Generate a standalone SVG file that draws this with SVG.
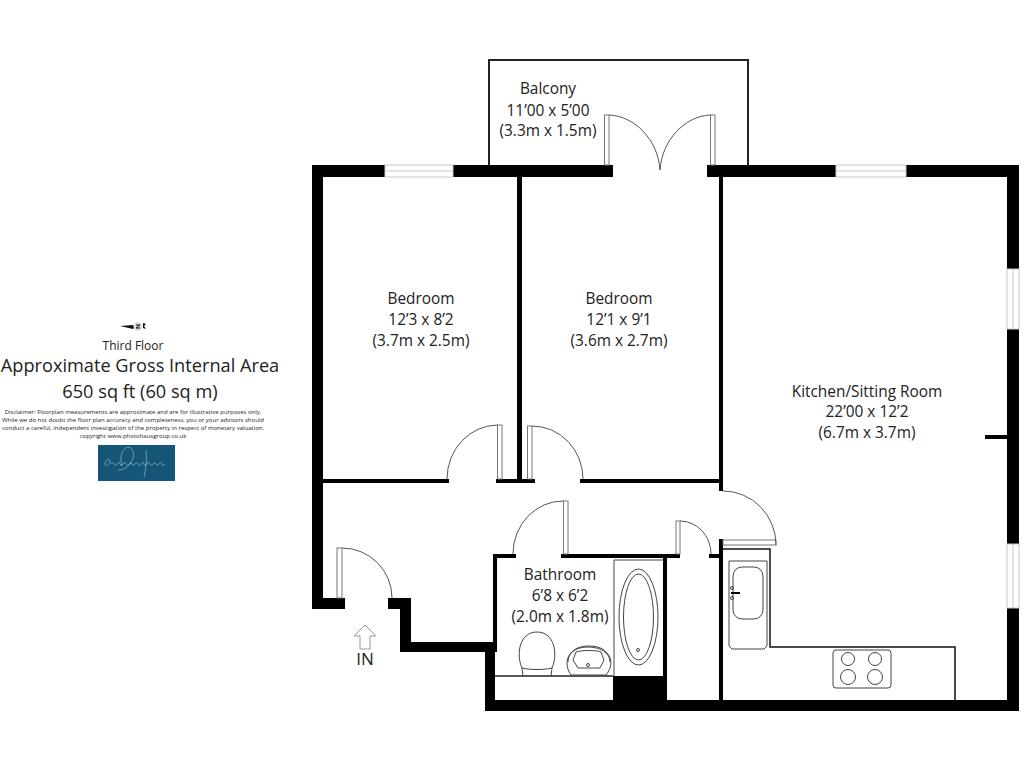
<svg xmlns="http://www.w3.org/2000/svg" width="1024" height="768" viewBox="0 0 1024 768">
<style>
text{font-family:"Open Sans","Noto Sans","Liberation Sans",sans-serif;fill:#222;text-anchor:middle}
.r{font-size:15.400px}
.w{fill:#000;stroke:none}
.win{fill:#fff;stroke:#c8c8c8;stroke-width:1}
.wl{fill:none;stroke:#c8c8c8;stroke-width:1}
.leaf{fill:#fff;stroke:#777;stroke-width:1}
.arc{fill:none;stroke:#555;stroke-width:1}
.fx{fill:none;stroke:#444;stroke-width:1}
.c{fill:none;stroke:#111;stroke-width:1.500}
</style>
<rect width="1024" height="768" fill="#fff"/>
<g id="balcony">
<path d="M489 165V60H748V165" fill="none" stroke="#222" stroke-width="2"/>
<text class="r" x="548" y="94">Balcony</text>
<text class="r" x="548" y="116">11’00 x 5’00</text>
<text class="r" x="548" y="136">(3.3m x 1.5m)</text>
</g>
<g id="walls">
<path class="w" d="M312 165H613V177H323V598H345V609H312Z"/>
<rect class="w" x="707" y="165" width="312" height="12"/>
<rect class="w" x="1007" y="165" width="12" height="546"/>
<rect class="w" x="485" y="700" width="534" height="11"/>
<path class="w" d="M388 598H411V642H497V652H400V609H388Z"/>
<rect class="w" x="485" y="642" width="10" height="60"/>
<rect class="w" x="493" y="554" width="4" height="90"/>
<rect class="w" x="493" y="554" width="23" height="4"/>
<rect class="w" x="561" y="554" width="119" height="4"/>
<rect class="w" x="663" y="554" width="4" height="146"/>
<rect class="w" x="517" y="177" width="5" height="306"/>
<rect class="w" x="719" y="177" width="4" height="314"/>
<rect class="w" x="719" y="539" width="4" height="161"/>
<rect class="w" x="709" y="554" width="10" height="4"/>
<rect class="w" x="323" y="479" width="126" height="4"/>
<rect class="w" x="496" y="479" width="39" height="4"/>
<rect class="w" x="580" y="479" width="139" height="4"/>
<rect class="w" x="985" y="435" width="22" height="4"/>
<rect class="w" x="613" y="676" width="50" height="24"/>
</g>
<g id="windows">
<rect class="win" x="385" y="165" width="68" height="12"/><path class="wl" d="M385 171H453"/>
<rect class="win" x="836" y="165" width="70" height="12"/><path class="wl" d="M836 171H906"/>
<rect class="win" x="1007" y="269" width="12" height="60"/><path class="wl" d="M1013 269V329"/>
<rect class="win" x="1007" y="544" width="12" height="64"/><path class="wl" d="M1013 544V608"/>
</g>
<g id="doors">
<rect class="leaf" x="604.500" y="115" width="4.500" height="50"/><path class="arc" d="M609 115C635 116 658 140 660 170"/>
<rect class="leaf" x="710.500" y="115" width="4.500" height="50"/><path class="arc" d="M710.500 115C685 116 662 140 660 170"/>
<rect class="leaf" x="497.500" y="425" width="4.500" height="54"/><path class="arc" d="M497.500 425A51 54 0 0 0 447 479"/>
<rect class="leaf" x="527.500" y="426" width="4.500" height="53"/><path class="arc" d="M532 426A51 53 0 0 1 583 479"/>
<rect class="leaf" x="563.500" y="501" width="4.500" height="53"/><path class="arc" d="M563.500 501A50 53 0 0 0 513 554"/>
<rect class="leaf" x="337" y="548" width="5" height="50"/><path class="arc" d="M342 548A50 50 0 0 1 392 598"/>
<rect class="leaf" x="676" y="521" width="4" height="33"/><path class="arc" d="M680 521A31 33 0 0 1 711 554"/>
<rect class="leaf" x="723" y="540" width="53" height="5"/><path class="arc" d="M723 491A53 54 0 0 1 776 545"/>
</g>
<g id="kitchen">
<path class="c" d="M723 549H770V647H955V700"/>
<path class="fx" d="M729 561H767V646L764 649H732L729 646Z"/>
<rect class="fx" x="733" y="567" width="30" height="52" rx="9"/>
<rect class="w" x="731" y="592" width="9" height="2"/>
<circle class="fx" cx="732" cy="588" r="1.500"/><circle class="fx" cx="732" cy="598" r="1.500"/>
<rect class="fx" x="833" y="650" width="58" height="38" rx="3"/>
<circle class="fx" cx="848" cy="659" r="6.500"/><circle class="fx" cx="875" cy="659" r="6.500"/>
<circle class="fx" cx="848" cy="677" r="7.500"/><circle class="fx" cx="875" cy="677" r="7.500"/>
<text class="r" x="867" y="397">Kitchen/Sitting Room</text>
<text class="r" x="867" y="417">22’00 x 12’2</text>
<text class="r" x="867" y="438">(6.7m x 3.7m)</text>
</g>
<g id="bathroom">
<path d="M495 676H613" stroke="#222" stroke-width="1.500"/>
<path class="fx" d="M614 676V560H663"/>
<ellipse class="fx" cx="638.500" cy="617" rx="19.500" ry="48"/>
<ellipse class="fx" cx="638.500" cy="617" rx="15" ry="43"/>
<circle class="fx" cx="638" cy="650" r="1.500"/>
<path class="fx" d="M523 676L522 668C516 655 519 632 537 632C555 632 558 655 552 668L551 676"/>
<path class="fx" d="M522 668C530 670 544 670 552 668"/>
<path class="fx" d="M571 675C566 668 565 658 572 652C578 644 600 644 606 652C613 658 612 668 606 675Z"/>
<path class="fx" d="M568 662C568 654 574 647 588 647C602 647 610 654 610 662"/>
<path class="fx" d="M578 668L573 660L576 652C582 650 596 650 601 652L604 660L600 668Z"/>
<circle class="fx" cx="588" cy="665" r="1.500"/>
<text class="r" x="560" y="580">Bathroom</text>
<text class="r" x="560" y="601">6’8 x 6’2</text>
<text class="r" x="560" y="622">(2.0m x 1.8m)</text>
</g>
<g id="bedroom1">
<text class="r" x="421" y="304">Bedroom</text>
<text class="r" x="421" y="325">12’3 x 8’2</text>
<text class="r" x="421" y="346">(3.7m x 2.5m)</text>
</g>
<g id="bedroom2">
<text class="r" x="619" y="304">Bedroom</text>
<text class="r" x="619" y="325">12’1 x 9’1</text>
<text class="r" x="619" y="346">(3.6m x 2.7m)</text>
</g>
<g id="entrance">
<path d="M365 625L376 636H370V649H360V636H354Z" fill="#fff" stroke="#999"/>
<text x="365" y="665" font-size="17">IN</text>
</g>
<g id="info">
<path d="M120 326L133 325L135 327L133 329Z" fill="#111"/>
<circle cx="138" cy="326.500" r="4.500" fill="#ddd"/>
<path d="M136 325h4l-4 3h4" stroke="#111" fill="none"/>
<path d="M143 323l3 1-2 2 2 3-3-1z" fill="#111"/>
<text x="133" y="350" font-size="12">Third Floor</text>
<text x="140" y="372" font-size="18.200">Approximate Gross Internal Area</text>
<text x="140" y="398" font-size="18.200">650 sq ft (60 sq m)</text>
<g font-size="6">
<text x="133" y="414">Disclaimer: Floorplan measurements are approximate and are for illustrative purposes only.</text>
<text x="133" y="422">While we do not doubt the floor plan accuracy and completeness, you or your advisors should</text>
<text x="133" y="430">conduct a careful, independent investigation of the property in respect of monetary valuation.</text>
<text x="133" y="438">copyright www.photohausgroup.co.uk</text>
</g>
</g>
<g id="logo">
<rect x="98" y="445" width="77" height="36" fill="#155577"/>
<path d="M105 463C107 458 111 459 110 462C108 467 104 466 105 463M111 464q2-3 3 0t3 0 3 0 3 0 3 0 3 0 3 0 3 0 3 0 3 0 3 0 3 0 3 0 3 0 3 0 3 0 3 0 3 0M122 466C118 452 126 445 131 448C137 453 132 470 118 470M146 450C147 460 146 468 144 477" fill="none" stroke="#a9c8d6" stroke-width=".6"/>
</g>
</svg>
